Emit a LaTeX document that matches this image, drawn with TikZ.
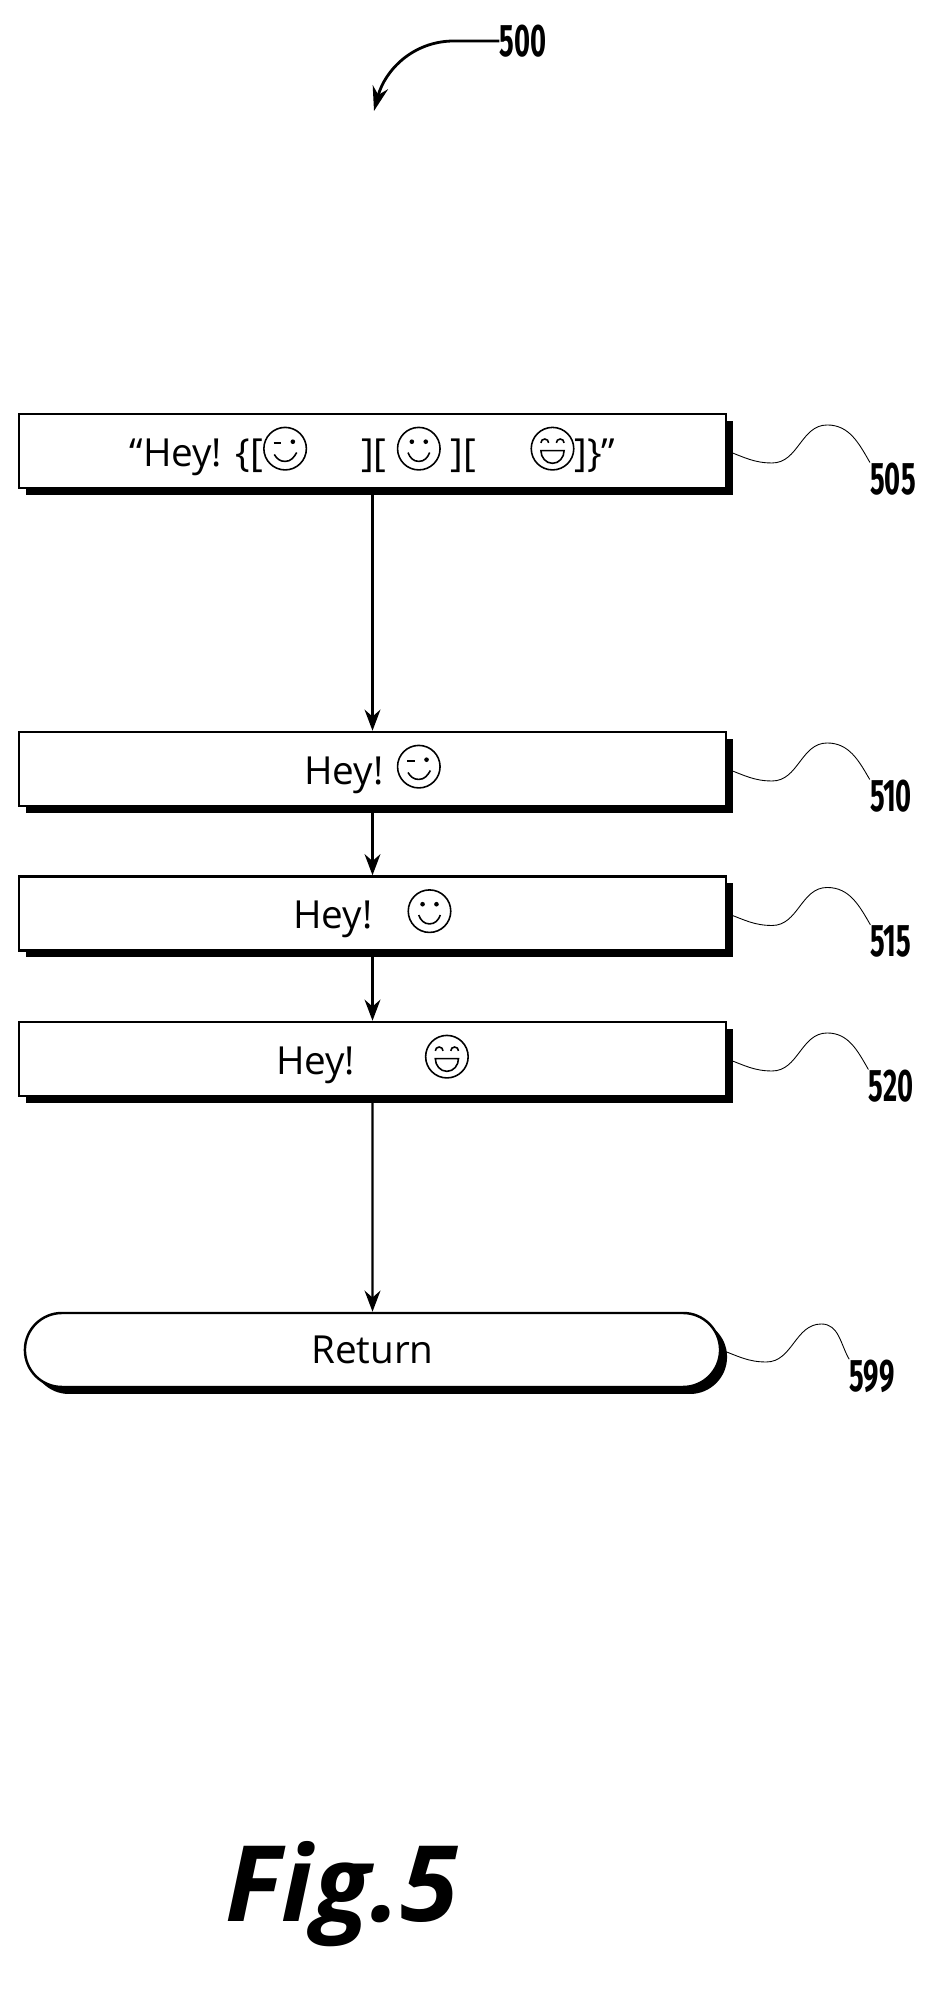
\documentclass[tikz,border=0pt]{standalone}
\usepackage{fontspec}
\setmainfont{Open Sans}
\newfontfamily\numfont{Fira Sans}
\usetikzlibrary{shapes.misc, shadows, arrows.meta}

% faces drawn inline
\newcommand{\wface}{\tikz[baseline=-0.45em,x=1em,y=1em,line width=0.9pt]{%
  \draw (0,0) circle (0.55); \draw (-0.3,0.15) -- (-0.1,0.15); \fill (0.2,0.18) circle (0.06);
  \draw (-0.28,-0.15) to[out=-60,in=180] (0,-0.33) to[out=0,in=-120] (0.3,-0.1);}}
\newcommand{\sface}{\tikz[baseline=-0.45em,x=1em,y=1em,line width=0.9pt]{%
  \draw (0,0) circle (0.55); \fill (-0.18,0.18) circle (0.06); \fill (0.18,0.18) circle (0.06);
  \draw (-0.28,-0.1) to[out=-70,in=180] (0,-0.33) to[out=0,in=-110] (0.28,-0.1);}}
\newcommand{\gface}{\tikz[baseline=-0.45em,x=1em,y=1em,line width=0.9pt]{%
  \draw (0,0) circle (0.55); \draw (-0.3,0.15) arc (180:0:0.1); \draw (0.1,0.15) arc (180:0:0.1);
  \draw (-0.3,-0.05) -- (0.3,-0.05) to[out=-90,in=0] (0,-0.38) to[out=180,in=-90] cycle;}}

\begin{document}
\begin{tikzpicture}[x=0.02cm,y=0.02cm]

\tikzset{stage/.style = {draw, line width=1.4pt, fill=white, minimum width=14.14cm, minimum height=1.48cm,
  font=\fontsize{22}{26}\selectfont, drop shadow={shadow xshift=0.14cm, shadow yshift=-0.14cm, opacity=1, fill=black}}}
\tikzset{term/.style = {stage, rounded rectangle}}
\tikzset{ref/.style = {font=\numfont\bfseries\fontsize{26}{28}\selectfont, inner sep=0pt}}
\tikzset{flow/.style = {-{Stealth[length=12pt,width=9pt]}, line width=1.4pt}}
\tikzset{lead/.style = {line width=0.5pt}}

\useasboundingbox (0,0) rectangle (944,1990);

%stages
\node[stage] (s505) at (372.5,1539) {“Hey! \{[\wface\hspace{1.4em}][ \sface\ ][\hspace{1.4em}\gface]\}”};
\node[stage] (s510) at (372.5,1221) {Hey! \wface};
\node[stage] (s515) at (372.5,1076.5) {Hey!\hspace{0.9em}\sface};
\node[stage] (s520) at (372.5,931) {Hey!\hspace{1.8em}\gface};
\node[term] (s599) at (372.5,640) {Return};
%reference numbers
\node[ref] (l500) at (523,1949) {\scalebox{0.6}[1]{500}};
\node[ref] (l505) at (893,1511) {\scalebox{0.6}[1]{505}};
\node[ref] (l510) at (891,1194) {\scalebox{0.6}[1]{510}};
\node[ref] (l515) at (891,1049) {\scalebox{0.6}[1]{515}};
\node[ref] (l520) at (891,904) {\scalebox{0.6}[1]{520}};
\node[ref] (l599) at (872,614) {\scalebox{0.6}[1]{599}};
\coordinate (c500) at (374,1879);
\node (fig) at (342,96) {\fontsize{60}{60}\selectfont\bfseries\itshape Fig.5};
%arrows
\draw [flow] (s505) -- (s510);
\draw [flow] (s510) -- (s515);
\draw [flow] (s515) -- (s520);
\draw [flow] (s520) -- (s599);
\draw [-{Stealth[length=14pt,width=9pt]}, line width=1.6pt] (l500.west) -- ++(-45,0) to[out=180,in=75] (c500);
%leaders
\foreach \s in {505,510,515,520,599}
  \draw [lead] (s\s.east) to[out=-20,in=180] ++(45,-12) to[out=0,in=180] ++(55,38)
    to[out=0,in=120] (l\s.north west);

\end{tikzpicture}
\end{document}
